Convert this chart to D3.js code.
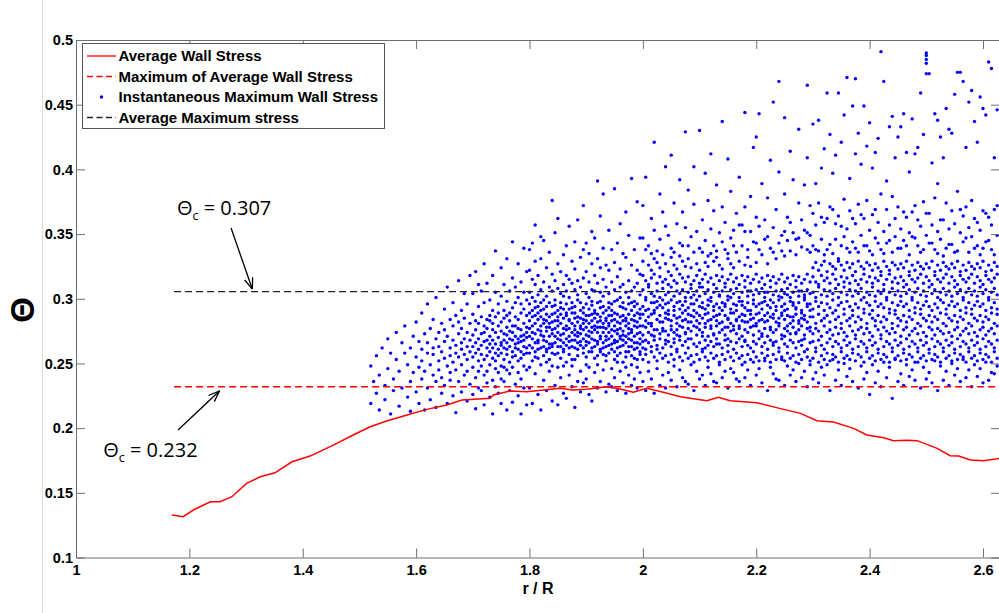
<!DOCTYPE html>
<html><head><meta charset="utf-8">
<script src="https://cdn.jsdelivr.net/npm/d3@7"></script>
<style>body{margin:0;background:#fff;}svg{display:block;}</style>
</head><body><svg id="c" width="999" height="613"></svg>
<script>
const xTicks = [1, 1.2, 1.4, 1.6, 1.8, 2, 2.2, 2.4, 2.6];
const yTicks = [0.1, 0.15, 0.2, 0.25, 0.3, 0.35, 0.4, 0.45, 0.5];
const xDomain = [1, 2.63];
const yDomain = [0.1, 0.5];

// Average wall stress (red solid)
const avgR = [1.169,1.189,1.207,1.237,1.254,1.275,1.301,1.325,1.351,1.381,1.413,1.454,1.489,1.519,1.548,1.584,1.619,1.654,1.681,1.731,1.736,1.766,1.795,1.825,1.854,1.875,1.901,1.937,1.960,1.983,2.007,2.036,2.066,2.113,2.133,2.154,2.201,2.248,2.278,2.307,2.336,2.372,2.395,2.425,2.442,2.466,2.484,2.519,2.542,2.557,2.578,2.601,2.63];
const avgTheta = [0.1329,0.1315,0.1367,0.1431,0.1431,0.1470,0.1573,0.1624,0.1655,0.1740,0.1784,0.1869,0.1947,0.2011,0.2055,0.2101,0.2145,0.2179,0.2217,0.2230,0.2256,0.2287,0.2281,0.2295,0.2308,0.2295,0.2300,0.2320,0.2302,0.2277,0.2308,0.2277,0.2243,0.2212,0.2238,0.2212,0.2196,0.2145,0.2114,0.2057,0.2047,0.1998,0.1947,0.1926,0.1903,0.1906,0.1903,0.1844,0.1787,0.1784,0.1753,0.1748,0.1766];

const maxAvgTheta = 0.232;   // red dashed
const avgMaxTheta = 0.3055;  // black dashed
const refStartR = 1.173;

// Instantaneous maximum wall stress: [r, [theta values]]
const scatterCols = [
[1.520,[.219,.248]],[1.525,[.236]],[1.530,[.227,.256]],[1.535,[.214,.241]],[1.540,[.262]],[1.545,[.222,.233]],
[1.550,[.246,.269]],[1.555,[.211,.258]],[1.560,[.229,.238]],[1.565,[.253,.274]],[1.570,[.217,.244]],[1.575,[.231,.266]],
[1.580,[.258,.279]],[1.585,[.224,.249]],[1.590,[.213,.262,.236]],[1.595,[.243,.271]],
[1.600,[.228,.255,.282]],[1.605,[.219,.247,.267]],[1.610,[.238,.261,.289,.252]],[1.615,[.214,.273,.244]],
[1.620,[.231,.258,.296,.266]],[1.625,[.222,.249,.277]],[1.630,[.241,.262,.284,.257]],[1.635,[.216,.236,.269,.301]],
[1.640,[.252,.274,.245,.263]],[1.645,[.227,.259,.281,.239]],[1.650,[.233,.267,.292,.254,.276]],[1.655,[.219,.248,.271,.309]],
[1.660,[.243,.262,.284,.256,.237]],[1.665,[.225,.268,.279,.251,.297]],[1.670,[.212,.245,.264,.287,.258]],[1.675,[.236,.255,.273,.282,.314]],
[1.680,[.228,.249,.266,.291,.261,.277]],[1.685,[.241,.257,.269,.285,.304]],[1.690,[.221,.253,.274,.263,.296,.244]],[1.695,[.234,.259,.281,.268,.318]],
[1.700,[.226,.247,.263,.272,.288,.255,.304]],[1.705,[.215,.239,.258,.276,.283,.266,.321]],[1.710,[.244,.252,.269,.281,.294,.261,.231,.311]],
[1.715,[.229,.257,.264,.273,.286,.248,.306]],[1.720,[.218,.241,.253,.267,.279,.297,.274,.327]],[1.725,[.235,.256,.262,.277,.284,.268,.312,.244]],
[1.730,[.224,.249,.259,.271,.283,.265,.299,.287]],[1.735,[.211,.237,.254,.268,.276,.291,.262,.318,.281]],[1.740,[.232,.252,.258,.274,.286,.265,.305,.246,.337]],
[1.745,[.227,.243,.261,.27,.279,.296,.256,.289]],[1.750,[.219,.248,.258,.266,.282,.275,.302,.264,.324,.238]],[1.755,[.236,.253,.262,.273,.285,.291,.268,.311,.247]],
[1.760,[.214,.245,.257,.266,.278,.287,.272,.298,.261,.331]],[1.765,[.229,.251,.263,.275,.283,.269,.306,.242,.289]],[1.770,[.22,.247,.259,.268,.279,.293,.274,.316,.255,.344]],
[1.775,[.234,.256,.265,.271,.286,.297,.262,.279,.309]],[1.780,[.225,.243,.261,.269,.277,.284,.301,.266,.327,.252]],[1.785,[.211,.238,.254,.267,.276,.289,.271,.313,.259,.296]],
[1.790,[.231,.248,.263,.272,.281,.292,.268,.305,.257,.339]],[1.795,[.218,.245,.258,.27,.278,.287,.274,.299,.262,.321]],
[1.800,[.231,.258,.264,.277,.283,.271,.296,.305,.289,.322,.247,.338]],[1.805,[.219,.252,.269,.274,.291,.286,.262,.301,.315,.279,.343]],
[1.810,[.242,.255,.266,.281,.293,.273,.298,.311,.259,.329,.287,.357]],[1.815,[.226,.261,.268,.276,.289,.303,.284,.254,.318,.294,.266]],
[1.820,[.214,.249,.272,.279,.262,.297,.286,.307,.331,.275,.291,.348]],[1.825,[.237,.256,.263,.284,.271,.292,.313,.268,.299,.281,.345]],
[1.830,[.229,.251,.267,.275,.288,.302,.259,.283,.324,.294,.278,.261]],[1.835,[.244,.262,.253,.278,.286,.297,.271,.309,.281,.336,.265]],
[1.840,[.221,.258,.265,.273,.294,.282,.306,.276,.319,.263,.376,.288,.248]],[1.845,[.233,.266,.257,.271,.283,.299,.289,.314,.277,.351,.295]],
[1.850,[.218,.247,.263,.279,.286,.274,.291,.308,.269,.327,.258,.362,.283]],[1.855,[.239,.254,.268,.272,.288,.297,.281,.304,.263,.321,.293]],
[1.860,[.227,.259,.261,.277,.285,.292,.273,.311,.266,.334,.248,.302]],[1.865,[.223,.251,.264,.276,.269,.287,.296,.306,.279,.318,.341,.289]],
[1.870,[.241,.257,.271,.283,.262,.292,.277,.301,.267,.315,.284,.356]],[1.875,[.232,.248,.268,.274,.289,.281,.297,.312,.263,.329,.253,.293]],
[1.880,[.216,.253,.262,.279,.285,.272,.294,.307,.276,.323,.268,.344,.289]],[1.885,[.236,.256,.266,.271,.286,.299,.282,.303,.261,.314,.274,.361]],
[1.890,[.228,.244,.267,.279,.273,.291,.285,.309,.264,.332,.297,.277]],[1.895,[.235,.262,.258,.276,.284,.293,.269,.316,.281,.338,.289,.372]],
[1.900,[.238,.255,.264,.272,.287,.296,.278,.304,.267,.321,.249,.343,.283]],[1.905,[.226,.247,.266,.281,.275,.292,.301,.271,.313,.259,.335,.287]],
[1.910,[.221,.259,.269,.274,.288,.295,.283,.307,.262,.327,.278,.352,.298]],[1.915,[.243,.254,.263,.279,.285,.291,.306,.276,.318,.268,.347,.289]],
[1.920,[.231,.249,.267,.274,.282,.297,.288,.312,.265,.331,.391,.256,.278]],[1.925,[.236,.261,.271,.278,.286,.293,.283,.305,.269,.324,.259,.364,.298]],
[1.930,[.245,.257,.266,.274,.289,.281,.302,.278,.315,.262,.339,.294,.381]],[1.935,[.228,.252,.263,.277,.285,.291,.271,.309,.268,.326,.256,.283]],
[1.940,[.234,.258,.269,.281,.293,.274,.304,.287,.322,.264,.353,.297,.279]],[1.945,[.232,.246,.265,.271,.287,.283,.296,.276,.313,.261,.338,.291]],
[1.950,[.239,.253,.268,.275,.284,.298,.279,.307,.266,.328,.259,.385,.289]],[1.955,[.229,.256,.262,.273,.282,.288,.299,.276,.317,.267,.343,.251]],
[1.960,[.244,.258,.271,.277,.286,.294,.281,.301,.269,.323,.263,.358,.309]],[1.965,[.235,.251,.264,.275,.283,.287,.297,.272,.311,.268,.335,.293]],
[1.970,[.227,.255,.266,.279,.285,.292,.283,.305,.271,.332,.259,.367,.247]],[1.975,[.241,.259,.269,.273,.281,.296,.288,.277,.314,.263,.349,.301]],
[1.980,[.233,.249,.263,.276,.284,.291,.297,.274,.306,.268,.326,.393,.256]],[1.985,[.238,.254,.266,.279,.287,.294,.283,.309,.271,.338,.261,.298]],
[1.990,[.231,.247,.262,.273,.282,.289,.296,.278,.312,.266,.322,.375,.253]],[1.995,[.243,.259,.265,.274,.285,.292,.279,.303,.269,.319,.257,.347,.288]],
[2.000,[.236,.253,.267,.272,.288,.294,.307,.318,.329,.279,.262,.347,.372]],[2.005,[.229,.257,.261,.278,.283,.299,.301,.314,.291,.268,.338,.394]],
[2.010,[.244,.251,.266,.274,.286,.292,.309,.311,.326,.281,.341]],[2.015,[.238,.259,.263,.279,.281,.297,.304,.316,.322,.288,.272,.362,.335]],
[2.020,[.227,.255,.268,.271,.289,.291,.302,.319,.276,.297,.353,.421,.331]],[2.025,[.246,.252,.264,.276,.284,.298,.306,.312,.328,.293,.261,.337]],
[2.030,[.233,.258,.269,.273,.287,.295,.301,.317,.324,.282,.346,.381]],[2.035,[.241,.254,.262,.277,.282,.293,.308,.313,.275,.299,.334,.367]],
[2.040,[.231,.256,.265,.275,.285,.296,.303,.315,.327,.268,.289,.356,.402]],[2.045,[.243,.251,.267,.272,.288,.291,.305,.311,.321,.284,.297,.349]],
[2.050,[.237,.257,.263,.279,.283,.299,.309,.318,.276,.332,.339,.411]],[2.055,[.248,.253,.266,.274,.287,.294,.302,.314,.326,.291,.269,.374,.336]],
[2.060,[.232,.259,.261,.276,.281,.297,.306,.312,.323,.285,.272,.358]],[2.065,[.245,.255,.268,.271,.286,.292,.304,.319,.279,.298,.333,.343,.392]],
[2.070,[.239,.252,.264,.278,.289,.295,.307,.316,.329,.283,.341,.367]],[2.075,[.236,.258,.267,.273,.284,.298,.301,.313,.325,.274,.291,.355,.429]],
[2.080,[.234,.254,.262,.277,.288,.293,.305,.317,.282,.269,.331,.341,.384]],[2.085,[.249,.256,.269,.275,.282,.296,.308,.311,.324,.287,.301,.348]],
[2.090,[.229,.251,.265,.279,.286,.291,.303,.314,.296,.336,.373,.402]],[2.095,[.244,.257,.263,.272,.283,.299,.306,.318,.327,.278,.289,.352]],
[2.100,[.238,.253,.266,.276,.287,.294,.302,.312,.322,.281,.309,.339,.43]],[2.105,[.241,.259,.261,.274,.285,.297,.309,.315,.271,.293,.336,.361]],
[2.110,[.233,.255,.268,.278,.281,.292,.304,.319,.328,.288,.262,.345,.397]],[2.115,[.247,.252,.264,.271,.289,.295,.307,.313,.325,.283,.299,.333,.376]],
[2.120,[.242,.258,.267,.277,.284,.298,.301,.316,.279,.335,.354,.412]],[2.125,[.236,.254,.263,.273,.286,.291,.305,.311,.329,.294,.272,.368,.341]],
[2.130,[.235,.256,.269,.279,.283,.296,.308,.318,.287,.265,.332,.337,.388]],[2.135,[.249,.251,.265,.274,.288,.293,.303,.314,.326,.281,.302,.351]],
[2.140,[.239,.257,.262,.276,.282,.297,.306,.317,.323,.291,.344,.371,.437]],[2.145,[.244,.253,.268,.272,.287,.294,.309,.312,.278,.296,.338,.359]],
[2.150,[.231,.259,.264,.278,.285,.299,.302,.315,.284,.269,.331,.335,.408]],[2.155,[.246,.255,.267,.275,.281,.292,.307,.319,.327,.289,.301,.383,.347]],
[2.160,[.243,.252,.261,.279,.289,.296,.304,.313,.324,.276,.341,.353]],[2.165,[.238,.258,.266,.273,.284,.291,.308,.316,.295,.283,.336,.366]],
[2.170,[.236,.254,.269,.277,.286,.298,.301,.311,.329,.279,.357,.394]],[2.175,[.249,.256,.263,.271,.283,.295,.305,.318,.288,.298,.341,.357]],
[2.180,[.239,.251,.268,.276,.287,.293,.309,.314,.326,.282,.267,.352,.371,.444]],[2.185,[.245,.257,.264,.274,.282,.297,.302,.317,.291,.306,.332,.338]],
[2.190,[.233,.253,.262,.278,.288,.291,.306,.312,.325,.284,.352,.379]],[2.195,[.251,.259,.267,.272,.285,.299,.303,.315,.279,.296,.344,.417]],
[2.200,[.241,.255,.265,.279,.281,.294,.307,.319,.328,.288,.343,.363,.425]],[2.205,[.246,.252,.269,.275,.289,.296,.304,.313,.283,.338,.356,.443]],
[2.210,[.235,.258,.263,.273,.284,.292,.308,.316,.297,.271,.334,.389]],[2.215,[.252,.254,.266,.277,.287,.298,.301,.311,.282,.305,.346,.361]],
[2.220,[.229,.256,.261,.271,.283,.295,.305,.318,.327,.289,.348,.378]],[2.225,[.247,.251,.268,.278,.286,.293,.309,.314,.276,.299,.339,.407]],
[2.230,[.242,.257,.264,.274,.288,.297,.303,.317,.285,.266,.336,.355,.452]],[2.235,[.238,.253,.267,.276,.282,.291,.306,.312,.294,.331,.369]],
[2.240,[.237,.259,.262,.279,.285,.299,.302,.315,.281,.343,.398,.468]],[2.245,[.253,.255,.269,.272,.289,.294,.307,.319,.287,.301,.337,.349]],
[2.250,[.233,.252,.265,.277,.284,.296,.304,.313,.291,.271,.333,.352,.381,.44]],[2.255,[.248,.258,.263,.275,.287,.292,.308,.316,.279,.303,.345,.363]],
[2.260,[.241,.254,.268,.273,.281,.298,.301,.311,.286,.337,.359,.414]],[2.265,[.245,.256,.266,.278,.286,.295,.305,.318,.283,.297,.351,.392]],
[2.270,[.236,.251,.262,.274,.288,.293,.309,.314,.292,.273,.334,.346]],[2.275,[.25,.257,.267,.276,.283,.297,.302,.317,.281,.306,.347,.374,.431]],
[2.280,[.239,.253,.264,.279,.285,.291,.306,.312,.289,.268,.34,.361]],[2.285,[.244,.259,.269,.272,.287,.299,.303,.315,.284,.301,.353,.388]],
[2.290,[.232,.255,.261,.277,.282,.294,.307,.319,.296,.338,.351,.465,.409]],[2.295,[.249,.252,.266,.275,.286,.296,.304,.313,.278,.291,.349,.336,.372]],
[2.300,[.238,.254,.267,.273,.286,.292,.305,.317,.324,.341,.366,.435]],[2.305,[.243,.259,.262,.277,.281,.298,.301,.313,.328,.338,.357,.389]],
[2.310,[.235,.251,.268,.275,.288,.294,.309,.311,.322,.337,.374,.438]],[2.315,[.247,.256,.264,.271,.283,.297,.303,.318,.326,.346,.363,.401]],
[2.320,[.241,.253,.261,.279,.285,.291,.307,.314,.329,.334,.359,.416]],[2.325,[.249,.258,.266,.274,.287,.296,.302,.316,.321,.338,.362,.459]],
[2.330,[.229,.252,.269,.276,.282,.293,.306,.312,.327,.342,.371,.427]],[2.335,[.253,.257,.263,.272,.289,.299,.304,.319,.325,.335,.369,.397]],
[2.340,[.237,.255,.267,.278,.284,.291,.308,.315,.323,.346,.358,.411]],[2.345,[.245,.251,.265,.273,.286,.295,.301,.311,.329,.331,.364,.459]],
[2.350,[.233,.259,.262,.277,.281,.297,.305,.317,.326,.341,.356,.421]],[2.355,[.25,.254,.268,.274,.288,.292,.309,.313,.322,.348,.377,.442]],
[2.360,[.24,.256,.264,.271,.283,.298,.303,.316,.328,.339,.354,.471]],[2.365,[.246,.253,.266,.279,.285,.294,.307,.312,.324,.336,.368,.393]],
[2.370,[.236,.258,.261,.275,.287,.291,.302,.318,.327,.344,.362,.449]],[2.375,[.252,.269,.272,.282,.296,.306,.314,.321,.339,.358,.412,.47]],
[2.380,[.231,.257,.263,.276,.286,.293,.304,.311,.329,.336,.373,.428]],[2.385,[.248,.255,.267,.278,.284,.299,.308,.315,.325,.349,.365,.404]],
[2.390,[.238,.251,.265,.273,.289,.292,.301,.319,.323,.341,.362,.449]],[2.395,[.243,.259,.262,.277,.281,.297,.305,.313,.328,.341,.376,.418]],
[2.400,[.226,.254,.268,.274,.288,.295,.303,.317,.326,.337,.353,.436]],[2.405,[.249,.256,.264,.271,.285,.291,.309,.312,.322,.334,.365,.401]],
[2.410,[.235,.252,.266,.279,.283,.298,.302,.316,.327,.347,.369,.413]],[2.415,[.244,.258,.261,.276,.287,.294,.306,.314,.324,.343,.359,.424]],
[2.420,[.232,.253,.269,.272,.282,.296,.304,.318,.321,.338,.381,.491]],[2.425,[.251,.257,.263,.278,.286,.293,.307,.311,.329,.335,.352,.468]],
[2.430,[.239,.255,.267,.275,.284,.299,.301,.315,.325,.343,.369,.391]],[2.435,[.247,.251,.265,.273,.289,.292,.305,.319,.322,.345,.357,.433]],
[2.440,[.223,.259,.262,.277,.281,.297,.308,.313,.328,.336,.379,.441]],[2.445,[.253,.254,.268,.274,.288,.291,.303,.316,.326,.348,.362,.409]],
[2.450,[.236,.256,.264,.279,.285,.295,.306,.312,.323,.339,.371,.425]],[2.455,[.242,.252,.266,.271,.283,.298,.302,.317,.327,.339,.354,.433]],
[2.460,[.233,.258,.261,.276,.287,.294,.309,.314,.324,.345,.367,.443]],[2.465,[.249,.253,.269,.278,.282,.296,.304,.311,.329,.341,.363,.413]],
[2.470,[.24,.257,.263,.272,.286,.291,.307,.318,.321,.334,.351,.398]],[2.475,[.245,.255,.267,.275,.284,.299,.301,.315,.326,.348,.367,.439]],
[2.480,[.237,.251,.265,.277,.289,.293,.305,.313,.322,.347,.372,.412]],[2.485,[.251,.259,.262,.273,.281,.297,.308,.316,.328,.341,.361,.417]],
[2.490,[.231,.254,.268,.279,.288,.292,.303,.319,.325,.336,.356,.459]],[2.495,[.247,.256,.264,.274,.285,.295,.306,.312,.323,.338,.375,.427]],
[2.500,[.238,.252,.266,.271,.283,.298,.302,.317,.327,.349,.366,.474,.482,.485,.488,.49]],[2.505,[.243,.258,.261,.278,.287,.294,.309,.314,.324,.343,.366,.474]],
[2.510,[.235,.253,.269,.276,.282,.291,.304,.311,.329,.343,.357,.405]],[2.515,[.252,.257,.263,.272,.286,.296,.307,.318,.321,.338,.378,.443]],
[2.520,[.229,.255,.267,.277,.284,.293,.301,.315,.326,.335,.352,.389,.438]],[2.525,[.248,.251,.265,.275,.289,.299,.305,.313,.322,.346,.361,.425]],
[2.530,[.237,.259,.262,.273,.281,.297,.308,.316,.328,.333,.361,.409]],[2.535,[.244,.254,.268,.279,.288,.292,.303,.319,.325,.339,.374,.447]],
[2.540,[.233,.256,.264,.274,.285,.295,.306,.312,.323,.342,.354,.431]],[2.545,[.25,.252,.266,.271,.283,.298,.302,.317,.327,.342,.368,.428]],
[2.550,[.241,.258,.261,.276,.287,.294,.309,.314,.324,.336,.358,.458]],[2.555,[.246,.253,.269,.278,.282,.296,.304,.311,.329,.337,.383,.475]],
[2.560,[.236,.257,.263,.272,.286,.291,.307,.318,.321,.351,.369,.475]],[2.565,[.253,.255,.267,.275,.284,.299,.301,.315,.326,.344,.364,.468]],
[2.570,[.239,.251,.265,.277,.289,.293,.305,.313,.322,.347,.371,.417]],[2.575,[.245,.259,.262,.273,.281,.297,.308,.316,.328,.336,.355,.452]],
[2.580,[.232,.254,.268,.279,.288,.292,.303,.319,.325,.348,.376,.461]],[2.585,[.249,.256,.264,.274,.285,.295,.306,.312,.323,.339,.362,.437]],
[2.590,[.24,.252,.266,.271,.283,.298,.302,.317,.327,.341,.359,.421]],[2.595,[.246,.258,.261,.276,.287,.294,.309,.314,.324,.334,.353,.456]],
[2.600,[.235,.253,.269,.278,.282,.296,.304,.311,.329,.339,.368,.447]],[2.605,[.251,.257,.263,.272,.286,.291,.307,.318,.321,.344,.366,.442]],
[2.610,[.237,.255,.267,.275,.284,.299,.301,.315,.326,.345,.363,.483]],[2.615,[.243,.251,.265,.277,.289,.293,.305,.313,.322,.338,.357,.478]],
[2.620,[.242,.259,.262,.273,.281,.297,.308,.316,.328,.334,.369,.409]],[2.625,[.248,.254,.268,.279,.288,.292,.303,.319,.325,.349,.372,.446]]
];

const legendLabels = ["Average Wall Stress", "Maximum of Average Wall Stress", "Instantaneous Maximum Wall Stress", "Average Maximum stress"];
const xTitle = "r / R";
const yTitle = "\u0398";
// annotations in data units
const annotations = [
  {value: "0.307", textR: 1.178, textTheta: 0.3647, fromR: 1.2735, fromTheta: 0.3547, toR: 1.311, toTheta: 0.3075},
  {value: "0.232", textR: 1.048, textTheta: 0.1779, fromR: 1.180, fromTheta: 0.1985, toR: 1.253, toTheta: 0.2287}
];

const W = 999, H = 613;
const m = {left: 76, right: 1000, top: 40, bottom: 557.5};
const svg = d3.select("#c");
const font = "'Liberation Sans', Arial, Helvetica, sans-serif";
const axisColor = "#6e6e6e";

const x = d3.scaleLinear().domain(xDomain).range([m.left, m.right]);
const y = d3.scaleLinear().domain(yDomain).range([m.bottom, m.top]);

// page edge line
svg.append("line").attr("x1", 42.5).attr("x2", 42.5).attr("y1", 0).attr("y2", H)
  .attr("stroke", "#dcdcdc").attr("stroke-width", 1);

const defs = svg.append("defs");
defs.append("clipPath").attr("id", "pc")
  .append("rect").attr("x", m.left).attr("y", m.top).attr("width", m.right - m.left).attr("height", m.bottom - m.top);

const plot = svg.append("g").attr("clip-path", "url(#pc)");

// scatter
const pts = [];
scatterCols.forEach(([r, arr]) => arr.forEach(t => pts.push([r, t])));
plot.append("g").selectAll("circle").data(pts).join("circle")
  .attr("cx", d => x(d[0])).attr("cy", d => y(d[1])).attr("r", 1.7).attr("fill", "#0000ff");

// average wall stress
plot.append("path").datum(d3.zip(avgR, avgTheta))
  .attr("d", d3.line().x(d => x(d[0])).y(d => y(d[1])))
  .attr("fill", "none").attr("stroke", "#ff0000").attr("stroke-width", 1.5);

// reference lines
plot.append("line").attr("x1", x(refStartR)).attr("x2", x(xDomain[1])).attr("y1", y(maxAvgTheta)).attr("y2", y(maxAvgTheta))
  .attr("stroke", "#ff0000").attr("stroke-width", 1.3).attr("stroke-dasharray", "7,4");
plot.append("line").attr("x1", x(refStartR)).attr("x2", x(xDomain[1])).attr("y1", y(avgMaxTheta)).attr("y2", y(avgMaxTheta))
  .attr("stroke", "#222").attr("stroke-width", 1.3).attr("stroke-dasharray", "7,4");

// axes
function styleAxis(g, labels) {
  g.select(".domain").attr("stroke", axisColor);
  g.selectAll(".tick line").attr("stroke", axisColor);
  g.selectAll(".tick text").attr("fill", "#000").style("font-family", font).style("font-weight", "bold").style("font-size", "14.5px");
  if (!labels) g.selectAll(".tick text").remove();
}
const fmt = v => String(+v.toFixed(2));
svg.append("g").attr("transform", `translate(0,${m.bottom})`)
  .call(d3.axisBottom(x).tickValues(xTicks).tickFormat(fmt).tickSizeInner(-9).tickSizeOuter(0).tickPadding(7))
  .call(g => styleAxis(g, true));
svg.append("g").attr("transform", `translate(0,${m.top})`)
  .call(d3.axisTop(x).tickValues(xTicks).tickSizeInner(-9).tickSizeOuter(0))
  .call(g => styleAxis(g, false));
svg.append("g").attr("transform", `translate(${m.left},0)`)
  .call(d3.axisLeft(y).tickValues(yTicks).tickFormat(fmt).tickSizeInner(-9).tickSizeOuter(0).tickPadding(3))
  .call(g => styleAxis(g, true));
svg.append("g").attr("transform", `translate(${m.right},0)`)
  .call(d3.axisRight(y).tickValues(yTicks).tickSizeInner(-9).tickSizeOuter(0))
  .call(g => styleAxis(g, false));

// axis titles
svg.append("text").attr("x", (m.left + m.right) / 2).attr("y", 594).attr("text-anchor", "middle")
  .style("font-family", font).style("font-weight", "bold").style("font-size", "16px").text(xTitle);
svg.append("text").attr("transform", `translate(22.5,310) rotate(-90)`)
  .attr("text-anchor", "middle").attr("dominant-baseline", "central")
  .style("font-family", font).style("font-weight", "bold").style("font-size", "33px").text(yTitle);

// legend
const lg = svg.append("g");
lg.append("rect").attr("x", 82.5).attr("y", 43.5).attr("width", 302).attr("height", 85)
  .attr("fill", "#fff").attr("stroke", "#555").attr("stroke-width", 1);
const ly = [56, 76.5, 97, 117.5];
legendLabels.forEach((lab, i) => {
  const yy = ly[i];
  if (i === 2) {
    lg.append("circle").attr("cx", 101.5).attr("cy", yy).attr("r", 1.7).attr("fill", "#0000ff");
  } else {
    lg.append("line").attr("x1", 87).attr("x2", 116).attr("y1", yy).attr("y2", yy)
      .attr("stroke", i === 3 ? "#222" : "#ff0000").attr("stroke-width", 1.3)
      .attr("stroke-dasharray", i === 0 ? null : "6,3.5");
  }
  lg.append("text").attr("x", 118.5).attr("y", yy).attr("dy", "0.36em")
    .style("font-family", font).style("font-weight", "bold").style("font-size", "15px").text(lab);
});

// annotations
defs.append("marker").attr("id", "ah").attr("viewBox", "0 0 12 10").attr("refX", 11.5).attr("refY", 5)
  .attr("markerWidth", 12).attr("markerHeight", 10).attr("markerUnits", "userSpaceOnUse").attr("orient", "auto")
  .append("path").attr("d", "M0.5,0.8 L11.5,5 L0.5,9.2").attr("fill", "none").attr("stroke", "#000").attr("stroke-width", 1.3);
const afont = "'Open Sans', 'DejaVu Sans', sans-serif";
annotations.forEach(a => {
  const t = svg.append("text").attr("x", x(a.textR)).attr("y", y(a.textTheta))
    .style("font-family", afont).style("font-size", "20px").attr("fill", "#000");
  t.append("tspan").text("\u0398");
  t.append("tspan").attr("dy", 5).style("font-size", "12.5px").text("c");
  t.append("tspan").attr("dy", -5).text(" = " + a.value);
  svg.append("line").attr("x1", x(a.fromR)).attr("y1", y(a.fromTheta)).attr("x2", x(a.toR)).attr("y2", y(a.toTheta))
    .attr("stroke", "#000").attr("stroke-width", 1.3).attr("marker-end", "url(#ah)");
});
</script></body></html>
